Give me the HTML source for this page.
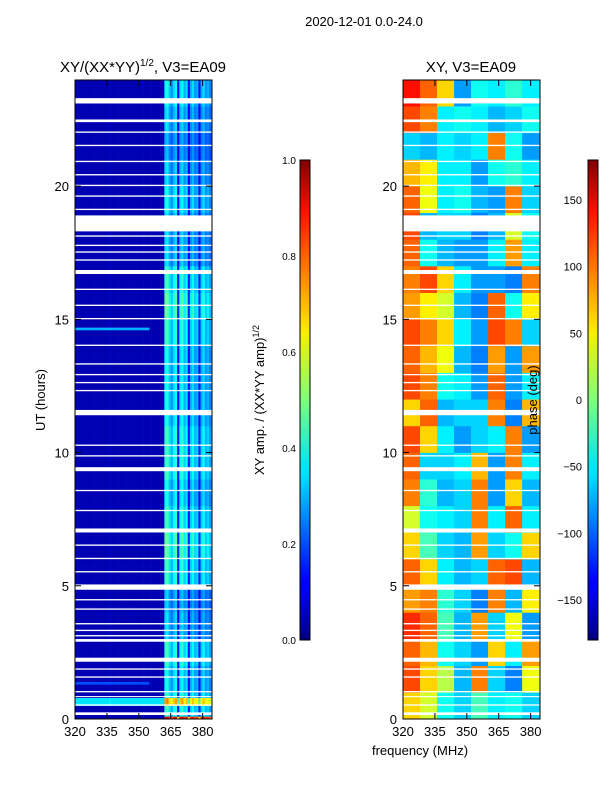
<!DOCTYPE html>
<html><head><meta charset="utf-8">
<style>
body{margin:0;background:#fff;font-family:"Liberation Sans","DejaVu Sans",sans-serif;}
svg text{font-family:"Liberation Sans","DejaVu Sans",sans-serif;}
</style></head>
<body>
<svg id="fig" width="600" height="800" xmlns="http://www.w3.org/2000/svg">
<rect width="600" height="800" fill="#fff"/>
<text x="364" y="26" font-size="13" text-anchor="middle">2020-12-01 0.0-24.0</text>
<text x="143" y="72" font-size="15" text-anchor="middle">XY/(XX*YY)<tspan font-size="10" dy="-6">1/2</tspan><tspan dy="6">, V3=EA09</tspan></text>
<text x="471" y="72" font-size="15" text-anchor="middle">XY, V3=EA09</text>
<g id="left"></g>
<g id="right"></g>
<g id="axes"></g>
<text transform="translate(45,400) rotate(-90)" font-size="13" text-anchor="middle">UT (hours)</text>
<text x="420" y="755" font-size="13" text-anchor="middle">frequency (MHz)</text>
<text transform="translate(264,400) rotate(-90)" font-size="13" text-anchor="middle">XY amp. / (XX*YY amp)<tspan font-size="9" dy="-5">1/2</tspan></text>
<text transform="translate(537,400) rotate(-90)" font-size="13" text-anchor="middle">phase (deg)</text>
<defs><linearGradient id="jet" x1="0" y1="1" x2="0" y2="0">
<stop offset="0" stop-color="#000080"/><stop offset="0.11" stop-color="#0000ff"/><stop offset="0.125" stop-color="#0000ff"/><stop offset="0.34" stop-color="#00dcff"/><stop offset="0.36" stop-color="#00e5f7"/><stop offset="0.5" stop-color="#7dff7a"/><stop offset="0.64" stop-color="#f7ef00"/><stop offset="0.66" stop-color="#ffdc00"/><stop offset="0.89" stop-color="#ff1300"/><stop offset="1" stop-color="#800000"/></linearGradient></defs>
<rect x="300" y="160" width="10" height="480" fill="url(#jet)" stroke="#000" stroke-width="1"/>
<rect x="588" y="160" width="10" height="480" fill="url(#jet)" stroke="#000" stroke-width="1"/>
</svg>
<script>
const channels=[];for(let f=320;f<384;f++)channels.push(f);
const ampProfile=[0.05,0.05,0.05,0.05,0.05,0.05,0.05,0.05,0.05,0.05,0.05,0.05,0.05,0.05,0.05,0.05,0.06,0.05,0.05,0.05,0.05,0.05,0.05,0.05,0.05,0.05,0.05,0.05,0.05,0.05,0.05,0.05,0.05,0.05,0.05,0.05,0.05,0.05,0.05,0.05,0.05,0.05,0.42,0.45,0.35,0.3,0.38,0.42,0.15,0.38,0.42,0.33,0.38,0.15,0.33,0.38,0.3,0.33,0.15,0.33,0.38,0.3,0.33,0.28];
const hourFactor=[1.0,0.9,1.0,0.8,0.75,1.0,1.1,1.0,0.9,1.0,1.0,0.9,0.9,0.9,1.0,1.1,1.0,0.8,0.8,0.9,0.8,0.7,0.8,0.9];
// [startHour, endHour, addedAmp, firstMHz, lastMHz]
const bands=[[0.55,0.8,0.3,320,384],[14.6,14.7,0.25,320,355],[1.3,1.4,0.15,320,355],[0.0,0.15,0.5,362,384]];
const flagged=[[0.15,0.25],[0.5,0.55],[0.82,0.86],[1.0,1.05],[1.55,1.6],[1.85,1.9],[2.15,2.3],[2.9,3.0],[3.1,3.15],[3.3,3.35],[3.55,3.6],[4.1,4.15],[4.45,4.5],[4.85,5.05],[5.5,5.55],[6.0,6.05],[6.5,6.55],[7.0,7.15],[7.8,7.85],[8.55,8.6],[9.3,9.45],[9.85,9.9],[10.25,10.3],[11.4,11.6],[12.3,12.35],[12.6,12.65],[12.9,12.95],[13.3,13.35],[14.0,14.05],[15.0,15.05],[15.5,15.55],[16.1,16.15],[16.7,16.85],[17.2,17.25],[17.5,17.55],[17.75,17.8],[18.1,18.15],[18.3,18.9],[19.1,19.15],[19.6,19.65],[20.0,20.05],[20.4,20.45],[20.9,20.95],[21.5,21.55],[22.0,22.05],[22.4,22.5],[23.1,23.3]];
const phaseGrid=[
[60,30,-40,-60,-20,-50,-40,-60],[110,60,20,-70,90,-60,-90,40],[100,70,-40,-60,-80,60,-50,80],[120,100,-20,-70,80,-60,40,-80],
[80,90,-30,-60,-90,90,-70,50],[100,60,-50,-70,-60,100,110,-70],[60,-20,-60,-70,80,-60,-40,60],[30,-40,-50,-60,90,-50,100,-50],
[90,-30,-70,-60,90,-80,60,-70],[100,-60,-60,-50,70,-80,90,-50],[110,60,-50,-80,-60,-50,90,-80],[60,100,-70,-60,-60,90,-90,70],
[110,90,-40,-50,-80,100,-80,-50],[100,70,40,-70,-90,80,-80,80],[110,90,60,-50,-80,110,90,-60],[80,50,30,-70,-90,100,-40,50],
[90,110,60,-50,-80,-80,-90,90],[100,-40,-70,-80,-80,-50,80,-50],[110,-70,-60,-60,-90,-70,30,-40],[100,40,-50,-40,-70,-80,90,-60],
[70,50,-50,-50,-80,-40,-30,-50],[-60,-70,-50,-60,-50,90,-40,-80],[110,90,-50,-40,-50,-70,-60,-40],[130,100,60,-80,-40,-50,-30,-50]];
const xTicks=[320,335,350,365,380];
const yTicks=[0,5,10,15,20];
const ampTicks=[0.0,0.2,0.4,0.6,0.8,1.0];
const phaseTicks=[-150,-100,-50,0,50,100,150];

const NS='http://www.w3.org/2000/svg';
const F0=320,F1=384.4,T0=0,T1=24;
function xL(f){return 75+(f-F0)/(F1-F0)*137;}
function xR(f){return 403+(f-F0)/(F1-F0)*137;}
function yT(h){return 719-(h-T0)/(T1-T0)*639.5;}
function jet(v){v=Math.max(0,Math.min(1,v));
 const r=Math.max(0,Math.min(1,1.5-Math.abs(4*v-3))),g=Math.max(0,Math.min(1,1.5-Math.abs(4*v-2))),b=Math.max(0,Math.min(1,1.5-Math.abs(4*v-1)));
 return `rgb(${Math.round(r*255)},${Math.round(g*255)},${Math.round(b*255)})`;}
function mk(tag,a,p){const e=document.createElementNS(NS,tag);for(const k in a)e.setAttribute(k,a[k]);p.appendChild(e);return e;}
const L=document.getElementById('left'),R=document.getElementById('right'),A=document.getElementById('axes');
const dh=0.1;
for(let i=0;i<240;i++){
 const h=i*dh,hi=Math.floor(h+1e-6),hm=h+dh/2;
 for(let c=0;c<channels.length;c++){
  let add=0;bands.forEach(b=>{if(hm>=b[0]&&hm<=b[1]&&channels[c]>=b[3]&&channels[c]<b[4])add+=b[2];});
  let v=ampProfile[c]*(ampProfile[c]>0.1?hourFactor[hi]:1)+add;
  const r=mk('rect',{x:xL(channels[c]),y:yT(h+dh),width:xL(channels[c]+1)-xL(channels[c])+0.3,height:yT(h)-yT(h+dh)+0.3,fill:jet(v)},L);
  
  
 }
}
for(let hi=0;hi<24;hi++){for(let j=0;j<8;j++){
 const f=F0+j*8;
 const r=mk('rect',{x:xR(f),y:yT(hi+1),width:xR(f+8)-xR(f)+(j==7?1:0.3),height:yT(hi)-yT(hi+1)+0.3,fill:jet((phaseGrid[hi][j]+180)/360)},R);
 
 
}}
flagged.forEach(fl=>{
 const a=mk('rect',{x:75,y:yT(fl[1]),width:137,height:yT(fl[0])-yT(fl[1]),fill:'#fff'},L);
 
 
 const b=mk('rect',{x:403,y:yT(fl[1]),width:137,height:yT(fl[0])-yT(fl[1]),fill:'#fff'},R);
 
 
});
[[75,xL],[403,xR]].forEach(([x0,xf],pi)=>{
 const fr=mk('rect',{x:x0,y:80,width:137,height:639,fill:'none',stroke:'#000','stroke-width':1},A);
 
 
 xTicks.forEach(t=>{
  mk('line',{x1:xf(t),x2:xf(t),y1:719,y2:713,stroke:'#000'},A);
  mk('line',{x1:xf(t),x2:xf(t),y1:80,y2:86,stroke:'#000'},A);
  const tx=mk('text',{x:xf(t),y:736,'font-size':13,'text-anchor':'middle'},A);tx.textContent=t;
  
  
 });
 yTicks.forEach(t=>{
  mk('line',{x1:x0,x2:x0+6,y1:yT(t),y2:yT(t),stroke:'#000'},A);
  mk('line',{x1:x0+137,x2:x0+131,y1:yT(t),y2:yT(t),stroke:'#000'},A);
  const ty=mk('text',{x:x0-6,y:yT(t)+5,'font-size':13,'text-anchor':'end'},A);ty.textContent=t;
  
  
 });
});
ampTicks.forEach(t=>{const y=640-t*480;
 mk('line',{x1:306,x2:310,y1:y,y2:y,stroke:'#000'},A);
 const e=mk('text',{x:296,y:y+4,'font-size':10,'text-anchor':'end'},A);e.textContent=t.toFixed(1);
 
 
});
phaseTicks.forEach(t=>{const y=640-(t+180)/360*480;
 mk('line',{x1:594,x2:598,y1:y,y2:y,stroke:'#000'},A);
 const e=mk('text',{x:582,y:y+4,'font-size':11,'text-anchor':'end'},A);e.textContent=t<0?'\u2212'+(-t):t;
 
 
});
</script>
</body></html>
